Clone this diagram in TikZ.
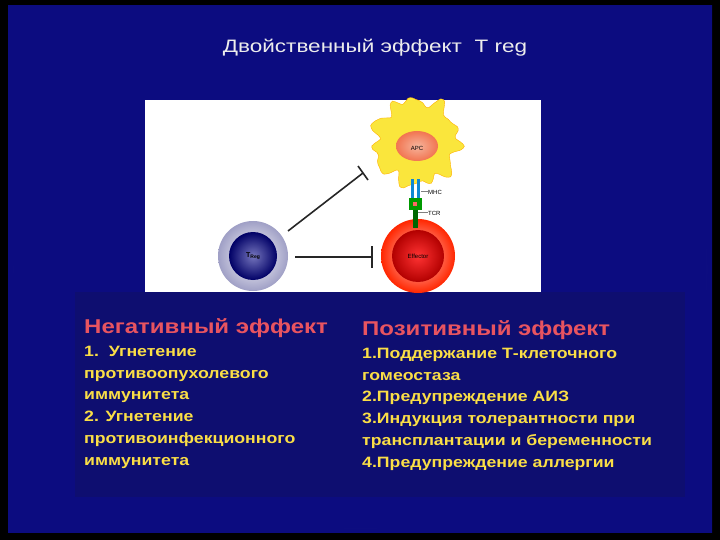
\documentclass[tikz,border=0pt]{standalone}
\usepackage{fontspec}
\usetikzlibrary{calc}
\setmainfont{Liberation Sans}
\definecolor{bgblue}{RGB}{12,12,128}
\definecolor{boxblue}{RGB}{14,14,112}
\definecolor{headred}{RGB}{232,84,96}
\definecolor{bodyyel}{RGB}{250,222,70}
\definecolor{apcyel}{RGB}{250,230,60}
\definecolor{apcnuc}{RGB}{240,130,90}
\tikzset{
  head/.style={anchor=north west,text=headred,font=\bfseries\fontsize{20}{22}\selectfont\addfontfeature{FakeStretch=1.2},inner sep=0},
  body/.style={anchor=north west,text=bodyyel,font=\bfseries\fontsize{15}{21.7}\selectfont\addfontfeature{FakeStretch=1.18},align=left,inner sep=0},
  tiny/.style={font=\fontsize{6}{7}\selectfont,inner sep=0},
  inhib/.style={line width=1.6pt,black!85}
}
\begin{document}
\begin{tikzpicture}[x=1pt,y=-1pt]
\useasboundingbox (0,0) rectangle (720,540);
\fill[black] (0,0) rectangle (720,540);
\shade[inner color=bgblue!90!white!95, outer color=bgblue] (8,6) rectangle (712,532);
\fill[bgblue] (14,10) rectangle (706,528);
\node[text=white!85!gray,font=\fontsize{18}{20}\selectfont\addfontfeature{FakeStretch=1.25}] (title) at (375,48) {Двойственный эффект\ \ T reg};
% panel
\fill[white] (145,100) rectangle (541,292);
\fill[boxblue] (75,292) rectangle (685,497);
% APC
\begin{scope}[shift={(416,142)}]
\fill[apcyel,draw=orange!60!yellow,line width=0.4pt] plot[smooth cycle,samples=72,domain=0:355] (\x:{42+4*sin(11*\x)+3*cos(7*\x+30)+2*sin(17*\x)});
\end{scope}
\shade[inner color=apcnuc!60!white, outer color=apcnuc!90!red] (417,146) ellipse (21 and 15);
\node[tiny] (apc) at (417,148) {APC};
% cells
\shade[inner color=white, outer color=blue!25!gray!60] (253,256) circle (35);
\shade[inner color=blue!35!gray!80, outer color=blue!40!black] (253,256) circle (24);
\node[tiny,font=\fontsize{7}{8}\selectfont\bfseries] (treg) at (253,256) {T\raisebox{-1pt}{\fontsize{5}{6}\selectfont Reg}};
\shade[inner color=red!20!white, outer color=red!70!orange] (418,256) circle (37);
\shade[inner color=red!80!white, outer color=red!70!black] (418,256) circle (26);
\node[tiny] (eff) at (418,256) {Effector};
% receptor
\fill[cyan!70!blue] (411,179) rectangle (414,198);
\fill[cyan!70!blue] (417,179) rectangle (420,198);
\fill[green!60!black] (409,198) rectangle (422,210);
\fill[red!60] (413,202) rectangle (417,206);
\fill[green!40!black] (413,210) rectangle (418,228);
\draw[gray,line width=0.4pt] (421,191)--(428,191) (418,212)--(428,212);
\node[tiny,anchor=west] (mhc) at (428,192) {MHC};
\node[tiny,anchor=west] (tcr) at (428,213) {TCR};
% inhibitory connectors
\coordinate (a1) at (288,231); \coordinate (a2) at (363,173);
\draw[inhib] (a1) -- (a2);
\draw[inhib] ($(a2)+(-5,-7)$) -- ($(a2)+(5,7)$);
\coordinate (b1) at (295,257); \coordinate (b2) at (372,257);
\draw[inhib] (b1) -- (b2) (372,246) -- (372,268);
% text
\node[head] (neg) at (84,318) {Негативный эффект};
\node[head] (pos) at (362,320) {Позитивный эффект};
\node[body] (negl) at (84,346) {1.\ \ Угнетение\\противоопухолевого\\иммунитета\\2. Угнетение\\противоинфекционного\\иммунитета};
\node[body] (posl) at (362,348) {1.Поддержание Т-клеточного\\гомеостаза\\2.Предупреждение АИЗ\\3.Индукция толерантности при\\трансплантации и беременности\\4.Предупреждение аллергии};
\end{tikzpicture}
\end{document}
